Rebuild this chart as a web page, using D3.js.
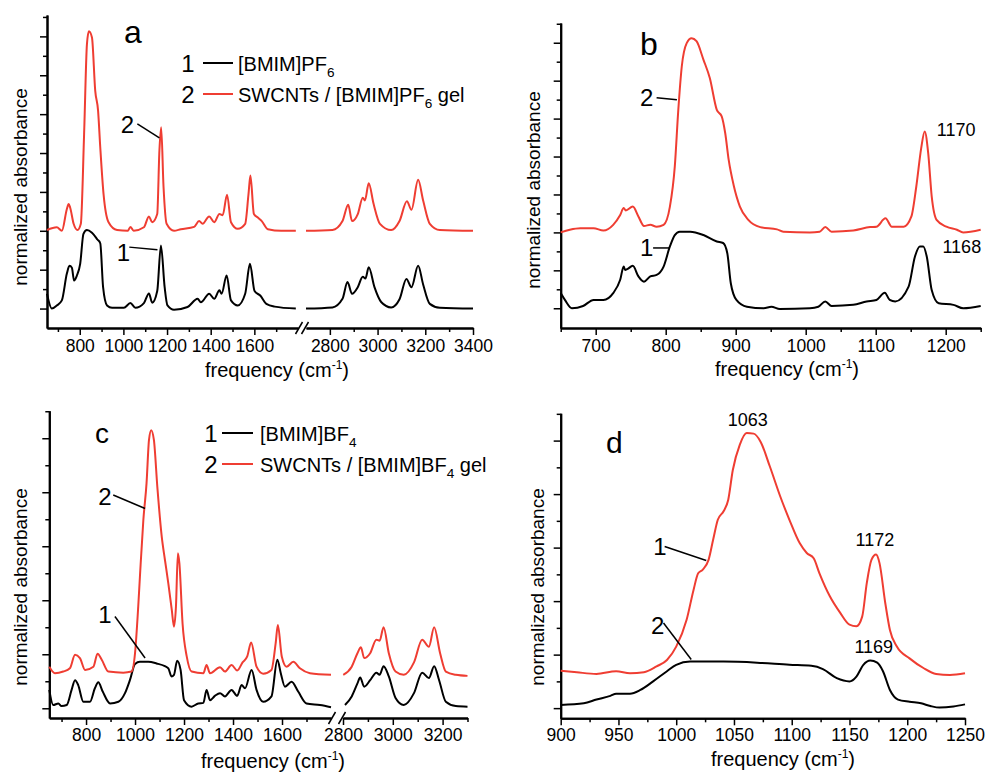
<!DOCTYPE html>
<html>
<head>
<meta charset="utf-8">
<script src="https://cdn.jsdelivr.net/npm/d3@7"></script>
<style>
body { margin: 0; background: #fff; }
text { font-family: Arial, "Liberation Sans", sans-serif; fill: #000; }
</style>
</head>
<body>
<svg id="fig" width="987" height="774"></svg>
<script>
//////////////////////////////////////////////////////////////////////////////
// Data: [frequency (cm-1), normalized absorbance + offset]

// panel a : [BMIM]PF6 (1) and SWCNTs / [BMIM]PF6 gel (2)
var aPF6 = [[650,0.38],[672,0],[695,0.08],[718,0.21],[741,0.9],[753,1.1],[764,1.05],[774,0.72],[787,0.85],
  [802,1.15],[817,1.92],[833,2.02],[856,1.95],[882,1.77],[894,1.68],[907,0.55],[925,0.08],[948,0.02],
  [1002,0.02],[1032,0.14],[1055,0.02],[1094,0.14],[1117,0.39],[1132,0.15],[1155,0.45],[1172,1.62],
  [1189,0.55],[1202,0.08],[1232,-0.03],[1294,0.04],[1340,0.25],[1355,0.16],[1393,0.38],[1416,0.25],
  [1440,0.47],[1450,0.38],[1473,0.85],[1493,0.21],[1524,0.08],[1558,0.38],[1580,1.15],[1601,0.45],
  [1628,0.33],[1655,0.12],[1693,0.05],[1790,0],
  [2700,0],[2811,0.03],[2853,0.25],[2874,0.68],[2893,0.38],[2917,0.55],[2938,0.82],[2949,0.77],
  [2963,1.06],[2987,0.55],[3015,0.17],[3057,0.03],[3092,0.24],[3121,0.76],[3142,0.55],[3170,1.1],
  [3191,0.62],[3219,0.12],[3261,0.02],[3400,0]];
var aGel = [[650,2.02],[695,2.09],[718,2.0],[741,2.56],[749,2.69],[756,2.6],[772,2.18],[790,2.02],
  [805,2.18],[820,4.49],[833,6.8],[842,7.13],[856,6.97],[871,5.6],[884,5.09],[894,4.15],[909,2.95],
  [932,2.22],[971,2.02],[1020,2.0],[1032,2.1],[1047,2.0],[1094,2.09],[1117,2.37],[1132,2.22],
  [1155,2.43],[1165,4.06],[1173,4.66],[1184,3.12],[1198,2.18],[1232,2.0],[1263,2.04],[1324,2.1],
  [1347,2.25],[1363,2.18],[1393,2.37],[1416,2.22],[1440,2.43],[1455,2.4],[1475,2.93],[1493,2.22],
  [1524,2.05],[1558,2.18],[1573,2.93],[1582,3.42],[1598,2.43],[1616,2.34],[1634,2.25],[1662,2.04],
  [1723,2.0],[1790,2.0],
  [2700,2.0],[2811,2.02],[2853,2.25],[2877,2.67],[2893,2.25],[2917,2.43],[2938,2.85],[2947,2.78],
  [2963,3.22],[2983,2.7],[3010,2.18],[3057,2.02],[3092,2.25],[3123,2.76],[3142,2.54],[3170,3.31],
  [3191,2.78],[3219,2.18],[3261,2.02],[3400,2.0]];

// panel b : zoom of panel a, 650-1250
var bPF6 = [[650,0.4],[656,0.22],[666,0],[682,0.06],[697,0.22],[711,0.22],[725,0.4],[735,0.75],
  [740,1.1],[742,1.01],[745,1.03],[753,1.12],[761,0.84],[769,0.7],[778,0.84],[787,0.88],[797,1.1],
  [806,1.63],[813,1.93],[820,2.02],[835,2.02],[854,1.93],[873,1.76],[882,1.72],[888,1.45],[893,0.66],
  [901,0.22],[916,0.04],[940,0],[951,0.04],[963,-0.02],[1006,0],[1018,0.04],[1028,0.18],[1037,0.06],
  [1068,0.09],[1087,0.18],[1101,0.22],[1113,0.41],[1120,0.22],[1128,0.18],[1147,0.57],[1156,1.36],
  [1163,1.63],[1168,1.63],[1173,1.36],[1180,0.48],[1190,0.13],[1211,0.09],[1225,0],[1250,0.06]];
var bGel = [[650,2.0],[663,2.07],[678,2.11],[697,2.11],[711,2.05],[725,2.2],[735,2.46],[740,2.64],
  [743,2.58],[753,2.68],[761,2.42],[769,2.17],[778,2.2],[787,2.15],[797,2.2],[806,2.68],[813,3.74],
  [818,5.23],[823,6.38],[830,6.99],[837,7.12],[844,7.04],[854,6.55],[863,6.07],[873,5.23],[880,5.06],
  [885,4.62],[890,3.91],[897,3.25],[906,2.68],[918,2.33],[935,2.14],[959,2.08],[968,2.02],[1006,2.0],
  [1020,2.02],[1028,2.14],[1037,2.02],[1068,2.05],[1092,2.14],[1101,2.15],[1114,2.37],[1123,2.15],
  [1140,2.15],[1151,2.42],[1158,3.21],[1165,4.22],[1170,4.66],[1175,4.09],[1180,2.95],[1187,2.33],
  [1201,2.15],[1216,2.07],[1225,2.0],[1250,2.07]];

// panel c : [BMIM]BF4 (1) and SWCNTs / [BMIM]BF4 gel (2)
var cBF4 = [[650,0.34],[666,0.06],[687,0.09],[700,0.04],[721,0.06],[741,0.34],[755,0.52],[768,0.43],
  [789,0.12],[816,0.12],[836,0.37],[850,0.48],[868,0.31],[898,0.09],[932,0.12],[959,0.28],[979,0.52],
  [1000,0.82],[1020,0.86],[1054,0.86],[1088,0.83],[1122,0.78],[1136,0.74],[1149,0.59],[1159,0.62],
  [1172,0.88],[1186,0.71],[1200,0.15],[1231,0.03],[1258,0.09],[1279,0.1],[1292,0.34],[1306,0.15],
  [1326,0.23],[1347,0.28],[1367,0.22],[1394,0.34],[1417,0.23],[1435,0.43],[1449,0.37],[1476,0.71],
  [1496,0.34],[1523,0.12],[1557,0.22],[1581,0.9],[1595,0.65],[1612,0.4],[1639,0.49],[1666,0.31],
  [1700,0.09],[1755,0.06],[1800,0.02],
  [2808,0.06],[2835,0.22],[2858,0.46],[2869,0.57],[2885,0.4],[2909,0.52],[2934,0.66],[2947,0.62],
  [2963,0.78],[2984,0.59],[3011,0.19],[3044,0.06],[3085,0.28],[3118,0.66],[3145,0.56],[3166,0.78],
  [3186,0.52],[3213,0.12],[3253,0.04],[3300,0.03]];
var cGel = [[650,0.77],[673,0.65],[707,0.68],[734,0.74],[755,0.99],[775,0.93],[796,0.71],[830,0.77],
  [847,1.01],[864,0.9],[891,0.68],[952,0.66],[986,0.68],[1000,1.02],[1013,1.88],[1020,2.44],
  [1034,3.49],[1047,4.17],[1057,4.97],[1066,5.15],[1077,4.97],[1091,4.1],[1109,3.18],[1122,2.75],
  [1136,2.31],[1150,1.82],[1159,1.51],[1167,1.88],[1175,2.87],[1181,2.69],[1194,1.57],[1211,0.96],
  [1231,0.68],[1279,0.65],[1292,0.8],[1306,0.65],[1347,0.76],[1367,0.68],[1394,0.8],[1417,0.7],
  [1439,0.85],[1458,0.96],[1474,1.22],[1496,0.77],[1523,0.64],[1557,0.71],[1574,1.2],[1583,1.54],
  [1599,0.96],[1619,0.77],[1646,0.86],[1673,0.74],[1714,0.65],[1800,0.62],
  [2801,0.62],[2835,0.77],[2858,1.02],[2872,1.13],[2885,0.93],[2909,1.02],[2934,1.27],[2947,1.25],
  [2963,1.5],[2984,1.02],[3011,0.68],[3044,0.62],[3085,0.85],[3118,1.27],[3145,1.14],[3166,1.5],
  [3190,1.02],[3213,0.68],[3253,0.62],[3300,0.6]];

// panel d : zoom of panel c, 900-1250
var dBF4 = [[900,0.06],[920,0.09],[931,0.16],[943,0.23],[948,0.27],[960,0.27],[969,0.34],[980,0.5],
  [992,0.69],[1000,0.81],[1012,0.87],[1041,0.87],[1070,0.85],[1098,0.81],[1117,0.79],[1127,0.73],
  [1139,0.56],[1150,0.5],[1156,0.59],[1162,0.81],[1168,0.89],[1174,0.85],[1179,0.69],[1185,0.34],
  [1192,0.16],[1202,0.12],[1212,0.09],[1220,0.04],[1228,0.01],[1240,0.03],[1250,0.07]];
var dGel = [[900,0.7],[914,0.67],[931,0.64],[948,0.69],[960,0.65],[972,0.67],[983,0.78],[992,0.9],
  [1000,1.15],[1009,1.65],[1015,2.21],[1019,2.52],[1023,2.59],[1028,2.77],[1032,3.15],[1036,3.52],
  [1041,3.68],[1045,3.89],[1049,4.45],[1055,4.92],[1061,5.14],[1067,5.13],[1073,4.98],[1081,4.52],
  [1090,3.96],[1098,3.52],[1107,3.08],[1113,2.9],[1119,2.8],[1124,2.52],[1133,2.09],[1142,1.78],
  [1150,1.56],[1156,1.53],[1161,1.71],[1165,2.34],[1169,2.77],[1173,2.87],[1176,2.71],[1181,1.96],
  [1185,1.46],[1191,1.15],[1202,0.93],[1214,0.75],[1225,0.64],[1237,0.62],[1250,0.65]];

// tick values
var ticksLowLab = [800, 1000, 1200, 1400, 1600];
var ticksLowMin = [700, 900, 1100, 1300, 1500, 1700];
var ticksAHighLab = [2800, 3000, 3200, 3400];
var ticksCHighLab = [2800, 3000, 3200];
var ticksHighMin = [2900, 3100, 3300];
var ticksBLab = [700, 800, 900, 1000, 1100, 1200];
var ticksBMin = [650, 750, 850, 950, 1050, 1150, 1250];
var ticksDLab = [900, 950, 1000, 1050, 1100, 1150, 1200, 1250];
var ticksDMin = [925, 975, 1025, 1075, 1125, 1175, 1225];

//////////////////////////////////////////////////////////////////////////////
// Layout

var RED = "#ef3d32";
var fig = d3.select("#fig");

var panels = [
  { letter: "a", letterPos: [124, 43, 32],
    segs: [ { dom: [650, 1800], rng: [47, 298], lab: ticksLowLab, min: ticksLowMin },
            { dom: [2700, 3400], rng: [306, 473], lab: ticksAHighLab, min: ticksHighMin } ],
    yDom: [-0.5, 7.55], yRng: [328, 15], yMajor: d3.range(0, 8), yMinor: d3.range(0.5, 7.6, 1),
    series: [ { data: aPF6, color: "#000" }, { data: aGel, color: RED } ],
    yTitle: [27, 187], xTitle: [277, 377], pad: 5,
    notes: [ { t: "2", at: [1018, 4.72], line: [[1064, 4.75], [1165, 4.39]] },
             { t: "1", at: [1000, 1.45], line: [[1027, 1.58], [1156, 1.51]] } ],
    legend: { x: 188, y: 63, dy: 31, line: [203, 233], tx: 238,
              items: [ { n: "1", color: "#000", parts: [["[BMIM]PF", 0], ["6", 1]] },
                       { n: "2", color: RED, parts: [["SWCNTs / [BMIM]PF", 0], ["6", 1], [" gel", 0]] } ] } },
  { letter: "b", letterPos: [640, 55, 32],
    segs: [ { dom: [650, 1250], rng: [560.7, 980.7], lab: ticksBLab, min: ticksBMin } ],
    yDom: [-0.52, 7.52], yRng: [328, 23], yMajor: d3.range(0, 8), yMinor: d3.range(0.5, 7.6, 1),
    series: [ { data: bPF6, color: "#000" }, { data: bGel, color: RED } ],
    yTitle: [540, 190], xTitle: [787, 376], pad: 5,
    notes: [ { t: "2", at: [773, 5.55], line: [[787, 5.55], [816, 5.5]] },
             { t: "1", at: [773, 1.59], line: [[782, 1.59], [806, 1.59]] },
             { t: "1170", at: [1215, 4.7], small: true },
             { t: "1168", at: [1223, 1.62], small: true } ] },
  { letter: "c", letterPos: [95, 443, 28],
    segs: [ { dom: [650, 1800], rng: [49.3, 331], lab: ticksLowLab, min: ticksLowMin },
            { dom: [2800, 3300], rng: [343, 467.5], lab: ticksCHighLab, min: ticksHighMin } ],
    yDom: [-0.18, 5.51], yRng: [718, 410.7], yMajor: d3.range(0, 6), yMinor: d3.range(0.5, 5.6, 1),
    series: [ { data: cBF4, color: "#000" }, { data: cGel, color: RED } ],
    yTitle: [27, 587], xTitle: [273, 768], pad: 4,
    notes: [ { t: "2", at: [877, 3.92], line: [[911, 3.95], [1041, 3.7]] },
             { t: "1", at: [877, 1.73], line: [[918, 1.7], [1041, 0.93]] } ],
    legend: { x: 211, y: 433, dy: 31, line: [222, 253], tx: 260,
              items: [ { n: "1", color: "#000", parts: [["[BMIM]BF", 0], ["4", 1]] },
                       { n: "2", color: RED, parts: [["SWCNTs / [BMIM]BF", 0], ["4", 1], [" gel", 0]] } ] } },
  { letter: "d", letterPos: [606, 453, 30],
    segs: [ { dom: [900, 1250], rng: [560.7, 965], lab: ticksDLab, min: ticksDMin } ],
    yDom: [-0.19, 5.51], yRng: [718.3, 413.3], yMajor: d3.range(0, 6), yMinor: d3.range(0.5, 5.6, 1),
    series: [ { data: dBF4, color: "#000" }, { data: dGel, color: RED } ],
    yTitle: [544, 587], xTitle: [783, 766], pad: 3,
    notes: [ { t: "1063", at: [1062, 5.39], small: true },
             { t: "1172", at: [1172, 3.14], small: true },
             { t: "1169", at: [1171, 1.15], small: true },
             { t: "1", at: [986, 3.02], line: [[990, 3.02], [1026, 2.76]] },
             { t: "2", at: [984, 1.55], line: [[989, 1.59], [1013, 0.91]] } ] }
];

function richText(sel, parts, size) {
  parts.forEach(function(p, i) {
    var prev = i > 0 ? parts[i - 1][1] : 0;
    var ts = sel.append("tspan").text(p[0]);
    if (p[1] === 1) ts.attr("font-size", size * 0.68).attr("dy", size * 0.3);
    else if (prev === 1) ts.attr("dy", -size * 0.3);
  });
}

function styleAxis(g, size) {
  g.attr("font-family", null).attr("font-size", size);
  g.select(".domain").attr("stroke-width", 2);
  g.selectAll(".tick line").attr("stroke-width", 1.5);
}

function drawPanel(p) {
  var g = fig.append("g");
  var y = d3.scaleLinear().domain(p.yDom).range(p.yRng);
  var xs = p.segs.map(function(s) { return d3.scaleLinear().domain(s.dom).range(s.rng); });
  var xLeft = p.segs[0].rng[0], yBot = p.yRng[0];

  // y axis (no labels)
  g.append("g").attr("transform", "translate(" + xLeft + ",0)")
    .call(d3.axisLeft(y).tickValues(p.yMajor).tickSize(7).tickSizeOuter(0).tickFormat(""))
    .call(styleAxis, 17);
  g.append("g").attr("transform", "translate(" + xLeft + ",0)")
    .call(d3.axisLeft(y).tickValues(p.yMinor).tickSize(4).tickSizeOuter(0).tickFormat(""))
    .call(styleAxis, 17);

  // x axis segments
  p.segs.forEach(function(s, i) {
    g.append("g").attr("transform", "translate(0," + yBot + ")")
      .call(d3.axisBottom(xs[i]).tickValues(s.lab).tickSize(7).tickPadding(p.pad)
        .tickSizeOuter(0).tickFormat(d3.format("d")))
      .call(styleAxis, 17.5);
    g.append("g").attr("transform", "translate(0," + yBot + ")")
      .call(d3.axisBottom(xs[i]).tickValues(s.min).tickSize(4).tickSizeOuter(0).tickFormat(""))
      .call(styleAxis, 17);
  });

  // axis break marks
  if (p.segs.length > 1) {
    var e1 = p.segs[0].rng[1], s2 = p.segs[1].rng[0];
    [e1 + 1, s2 - 1].forEach(function(bx) {
      g.append("line").attr("x1", bx - 3.5).attr("y1", yBot + 6).attr("x2", bx + 3.5).attr("y2", yBot - 6)
        .attr("stroke", "#000").attr("stroke-width", 1.5);
    });
  }

  // spectra
  p.series.forEach(function(sr) {
    p.segs.forEach(function(s, i) {
      var pts = sr.data.filter(function(d) { return d[0] >= s.dom[0] && d[0] <= s.dom[1]; });
      var line = d3.line()
        .x(function(d) { return xs[i](d[0]); })
        .y(function(d) { return y(d[1]); })
        .curve(d3.curveMonotoneX);
      g.append("path").datum(pts).attr("d", line)
        .attr("fill", "none").attr("stroke", sr.color).attr("stroke-width", 2)
        .attr("stroke-linejoin", "round");
    });
  });

  // panel letter
  g.append("text").attr("x", p.letterPos[0]).attr("y", p.letterPos[1])
    .attr("font-size", p.letterPos[2]).text(p.letter);

  // annotations
  var x0 = xs[0];
  p.notes.forEach(function(n) {
    g.append("text").attr("x", x0(n.at[0])).attr("y", y(n.at[1])).attr("dy", "0.35em")
      .attr("text-anchor", "middle").attr("font-size", n.small ? 18 : 24).text(n.t);
    if (n.line) {
      g.append("line")
        .attr("x1", x0(n.line[0][0])).attr("y1", y(n.line[0][1]))
        .attr("x2", x0(n.line[1][0])).attr("y2", y(n.line[1][1]))
        .attr("stroke", "#000").attr("stroke-width", 1.5);
    }
  });

  // legend
  if (p.legend) {
    var L = p.legend;
    L.items.forEach(function(it, i) {
      var ly = L.y + i * L.dy;
      g.append("text").attr("x", L.x).attr("y", ly).attr("dy", "0.36em")
        .attr("text-anchor", "middle").attr("font-size", 24).text(it.n);
      g.append("line").attr("x1", L.line[0]).attr("x2", L.line[1]).attr("y1", ly).attr("y2", ly)
        .attr("stroke", it.color).attr("stroke-width", 2);
      var t = g.append("text").attr("x", L.tx).attr("y", ly + 8).attr("font-size", 20);
      richText(t, it.parts, 20);
    });
  }

  // axis titles
  g.append("text").attr("transform", "translate(" + p.yTitle[0] + "," + p.yTitle[1] + ") rotate(-90)")
    .attr("text-anchor", "middle").attr("font-size", 19).text("normalized absorbance");
  var xt = g.append("text").attr("x", p.xTitle[0]).attr("y", p.xTitle[1])
    .attr("text-anchor", "middle").attr("font-size", 20);
  xt.append("tspan").text("frequency (cm");
  xt.append("tspan").attr("font-size", 12).attr("dy", -8).text("-1");
  xt.append("tspan").attr("dy", 8).text(")");
}

panels.forEach(drawPanel);
</script>
</body>
</html>
